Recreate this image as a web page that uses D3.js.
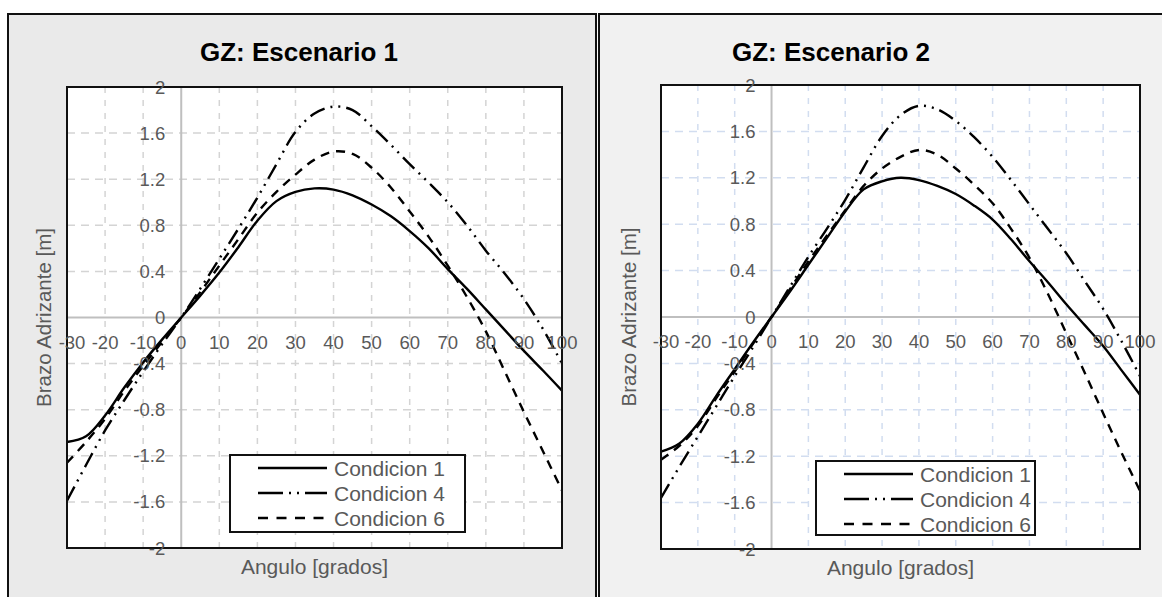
<!DOCTYPE html>
<html>
<head>
<meta charset="utf-8">
<script src="https://cdn.jsdelivr.net/npm/d3@7"></script>
<style>
  html, body { margin: 0; padding: 0; background: #ffffff; }
  svg { display: block; }
  text { font-family: "Liberation Sans", Arial, sans-serif; }
</style>
</head>
<body>
<svg id="chart" width="1162" height="597"></svg>
<script>
// ---------------- DATA ----------------
const angles = [-30,-25,-20,-15,-10,-5,0,5,10,15,20,25,30,35,40,45,50,55,60,65,70,75,80,85,90,95,100];

const esc1Cond1 = [-1.08,-1.03,-0.85,-0.61,-0.39,-0.19,0,0.19,0.39,0.61,0.84,1.01,1.09,1.12,1.11,1.06,0.98,0.88,0.75,0.60,0.42,0.25,0.07,-0.11,-0.29,-0.46,-0.635];
const esc1Cond4 = [-1.59,-1.28,-0.98,-0.72,-0.47,-0.23,0,0.25,0.51,0.77,1.04,1.33,1.61,1.77,1.83,1.80,1.66,1.50,1.33,1.17,1.00,0.80,0.58,0.38,0.16,-0.10,-0.40];
const esc1Cond6 = [-1.26,-1.08,-0.88,-0.64,-0.42,-0.21,0,0.22,0.45,0.68,0.91,1.09,1.24,1.37,1.44,1.42,1.30,1.13,0.92,0.70,0.45,0.18,-0.12,-0.47,-0.82,-1.16,-1.50];

const esc2Cond1 = [-1.16,-1.09,-0.92,-0.68,-0.45,-0.22,0,0.22,0.45,0.68,0.91,1.10,1.17,1.20,1.18,1.13,1.06,0.96,0.84,0.67,0.48,0.30,0.11,-0.07,-0.25,-0.46,-0.67];
const esc2Cond4 = [-1.56,-1.29,-1.03,-0.77,-0.51,-0.26,0,0.26,0.52,0.76,1.01,1.29,1.56,1.74,1.82,1.79,1.69,1.55,1.38,1.18,0.97,0.76,0.55,0.31,0.07,-0.21,-0.51];
const esc2Cond6 = [-1.23,-1.11,-0.94,-0.70,-0.47,-0.23,0,0.24,0.48,0.70,0.92,1.13,1.28,1.38,1.44,1.40,1.28,1.14,0.98,0.76,0.51,0.20,-0.14,-0.48,-0.83,-1.17,-1.50];

const seriesNames = ["Condicion 1", "Condicion 4", "Condicion 6"];
const chartTitles = ["GZ: Escenario 1", "GZ: Escenario 2"];
const xTicks = [-30,-20,-10,0,10,20,30,40,50,60,70,80,90,100];
const yTicks = [-2,-1.6,-1.2,-0.8,-0.4,0,0.4,0.8,1.2,1.6,2];
const xTitle = "Angulo [grados]";
const yTitle = "Brazo Adrizante [m]";

// ---------------- LAYOUT / STYLE ----------------
const dashes = [null, "16,6,2,6,2,6", "9,7"];
const legendDashes = [null, "25,6,2,6,2,6", "10,8.5"];
const panels = [
  { box: [8, 14, 588, 600], bg: "#eaeaea", grid: "#d4d4d4",
    plot: { x0: 67, x1: 562, y0: 87, y1: 548 }, titleX: 299, yTitleX: 44,
    legend: { x: 230, y: 455, w: 235, h: 77 },
    series: [esc1Cond1, esc1Cond4, esc1Cond6], title: chartTitles[0] },
  { box: [599, 14, 600, 600], bg: "#f1f1f1", grid: "#d2ddf0",
    plot: { x0: 661, x1: 1140, y0: 85, y1: 549 }, titleX: 831, yTitleX: 629,
    legend: { x: 816, y: 461, w: 219, h: 74 },
    series: [esc2Cond1, esc2Cond4, esc2Cond6], title: chartTitles[1] }
];

const svg = d3.select("#chart");
const fmt = v => (Math.round(v * 10) / 10).toString();

panels.forEach(p => {
  const g = svg.append("g");
  g.append("rect").attr("x", p.box[0]).attr("y", p.box[1])
    .attr("width", p.box[2]).attr("height", p.box[3])
    .attr("fill", p.bg).attr("stroke", "#111").attr("stroke-width", 2);

  const x = d3.scaleLinear().domain([-30, 100]).range([p.plot.x0, p.plot.x1]);
  const y = d3.scaleLinear().domain([-2, 2]).range([p.plot.y1, p.plot.y0]);

  g.append("rect").attr("x", p.plot.x0).attr("y", p.plot.y0)
    .attr("width", p.plot.x1 - p.plot.x0).attr("height", p.plot.y1 - p.plot.y0)
    .attr("fill", "#ffffff");

  g.append("g").selectAll("line").data(xTicks.filter(t => t !== 0 && t !== -30 && t !== 100))
    .join("line")
    .attr("x1", d => x(d)).attr("x2", d => x(d))
    .attr("y1", p.plot.y0).attr("y2", p.plot.y1)
    .attr("stroke", p.grid).attr("stroke-width", 1.5).attr("stroke-dasharray", "6,7");
  g.append("g").selectAll("line").data(yTicks.filter(t => t !== 0 && Math.abs(t) !== 2))
    .join("line")
    .attr("y1", d => y(d)).attr("y2", d => y(d))
    .attr("x1", p.plot.x0).attr("x2", p.plot.x1)
    .attr("stroke", p.grid).attr("stroke-width", 1.5).attr("stroke-dasharray", "8,6");

  g.append("line").attr("x1", x(0)).attr("x2", x(0)).attr("y1", p.plot.y0).attr("y2", p.plot.y1)
    .attr("stroke", "#bfbfbf").attr("stroke-width", 2);
  g.append("line").attr("y1", y(0)).attr("y2", y(0)).attr("x1", p.plot.x0).attr("x2", p.plot.x1)
    .attr("stroke", "#bfbfbf").attr("stroke-width", 2);

  const line = d3.line().x((d, i) => x(angles[i])).y(d => y(d)).curve(d3.curveCatmullRom.alpha(0.5));
  p.series.forEach((vals, k) => {
    g.append("path").datum(vals).attr("d", line)
      .attr("fill", "none").attr("stroke", "#000").attr("stroke-width", 2.4)
      .attr("stroke-dasharray", dashes[k]);
  });

  g.append("rect").attr("x", p.plot.x0).attr("y", p.plot.y0)
    .attr("width", p.plot.x1 - p.plot.x0).attr("height", p.plot.y1 - p.plot.y0)
    .attr("fill", "none").attr("stroke", "#111").attr("stroke-width", 2);

  g.append("g").selectAll("text").data(xTicks).join("text")
    .attr("x", d => x(d) + (d === -30 ? 5 : 0)).attr("y", y(0) + 31)
    .attr("text-anchor", "middle").attr("font-size", 18.5).attr("fill", "#595959")
    .text(d => d);
  g.append("g").selectAll("text").data(yTicks).join("text")
    .attr("x", x(0) - 16).attr("y", d => y(d) + 6.5)
    .attr("text-anchor", "end").attr("font-size", 18.5).attr("fill", "#595959")
    .text(d => fmt(d));

  g.append("text").attr("x", p.titleX).attr("y", 61).attr("text-anchor", "middle")
    .attr("font-size", 26).attr("font-weight", "bold").attr("fill", "#000").text(p.title);
  g.append("text").attr("x", (p.plot.x0 + p.plot.x1) / 2).attr("y", p.plot.y1 + 26)
    .attr("text-anchor", "middle").attr("font-size", 21).attr("fill", "#595959").text(xTitle);
  g.append("text").attr("transform", `translate(${p.yTitleX},${(p.plot.y0 + p.plot.y1) / 2}) rotate(-90)`)
    .attr("text-anchor", "middle").attr("dy", "0.35em")
    .attr("font-size", 20.5).attr("fill", "#595959").text(yTitle);

  const L = p.legend;
  const lg = g.append("g");
  lg.append("rect").attr("x", L.x).attr("y", L.y).attr("width", L.w).attr("height", L.h)
    .attr("fill", "#fff").attr("stroke", "#111").attr("stroke-width", 2);
  seriesNames.forEach((name, k) => {
    const cy = L.y + 13 + k * 25;
    lg.append("line").attr("x1", L.x + 28).attr("x2", L.x + 97).attr("y1", cy).attr("y2", cy)
      .attr("stroke", "#000").attr("stroke-width", 2.4).attr("stroke-dasharray", legendDashes[k]);
    lg.append("text").attr("x", L.x + 104).attr("y", cy + 7.5).attr("font-size", 21)
      .attr("fill", "#595959").text(name);
  });
});
</script>
</body>
</html>
